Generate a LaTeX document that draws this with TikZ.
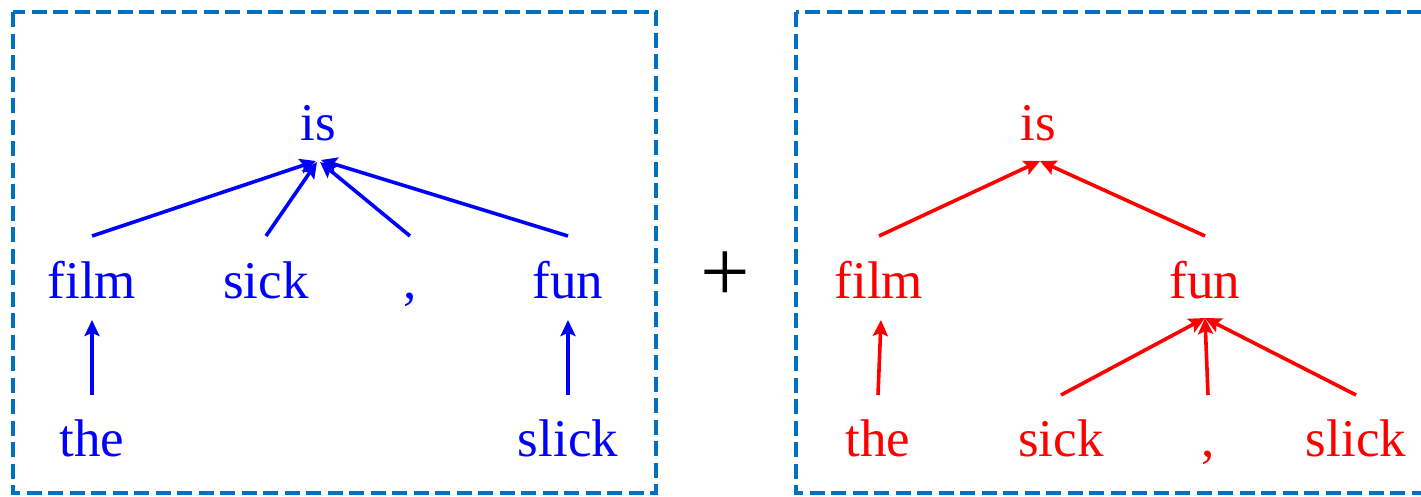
\documentclass[tikz,border=0pt]{standalone}
\usepackage{fontspec}
\setmainfont{Liberation Serif}
\usetikzlibrary{arrows.meta}
\definecolor{boxblue}{RGB}{0,112,192}
\begin{document}
\begin{tikzpicture}[x=1pt,y=-1pt,
  word/.style={inner sep=0pt,outer sep=0pt,anchor=base,text height=38pt,text depth=12pt,font=\fontsize{53}{60}\selectfont},
  bword/.style={word,text=blue},
  rword/.style={word,text=red},
  dep/.style={line width=3.6pt,-{Stealth[length=16pt,width=15pt,inset=3pt]}},
  bdep/.style={dep,draw=blue},
  rdep/.style={dep,draw=red},
  frame/.style={draw=boxblue,line width=4pt,dash pattern=on 15pt off 6.5pt}]
\useasboundingbox (0,0) rectangle (1421,496);
\draw[frame] (13,12) rectangle (656,493);
\draw[frame] (796,12) rectangle (1445,493);
% left tree
\node[bword] (lis) at (318,140) {is};
\node[bword] (lfilm) at (92,298) {film};
\node[bword] (lsick) at (266,298) {sick};
\node[bword] (lcomma) at (410,298) {,};
\node[bword] (lfun) at (568,298) {fun};
\node[bword] (lthe) at (92,456) {the};
\node[bword] (lslick) at (568,456) {slick};
\draw[bdep] ([yshift=24pt]lfilm.north) -- ([xshift=-2pt,yshift=-9pt]lis.south);
\draw[bdep] ([yshift=24pt]lsick.north) -- ([xshift=-1pt,yshift=-10pt]lis.south);
\draw[bdep] ([yshift=24pt]lcomma.north) -- ([xshift=2pt,yshift=-10pt]lis.south);
\draw[bdep] ([yshift=24pt]lfun.north) -- ([xshift=3pt,yshift=-8pt]lis.south);
\draw[bdep] ([yshift=23pt]lthe.north) -- ([yshift=-10pt]lfilm.south);
\draw[bdep] ([yshift=23pt]lslick.north) -- ([yshift=-10pt]lfun.south);
% plus
\node[inner sep=0pt,anchor=base,font=\fontsize{88}{90}\selectfont] (plus) at (725,301) {+};
% right tree
\node[rword] (ris) at (1038,140) {is};
\node[rword] (rfilm) at (879,298) {film};
\node[rword] (rfun) at (1205,298) {fun};
\node[rword] (rthe) at (878,456) {the};
\node[rword] (rsick) at (1061,456) {sick};
\node[rword] (rcomma) at (1208,456) {,};
\node[rword] (rslick) at (1356,456) {slick};
\draw[rdep] ([yshift=24pt]rfilm.north) -- ([xshift=2pt,yshift=-9pt]ris.south);
\draw[rdep] ([yshift=24pt]rfun.north) -- ([xshift=2pt,yshift=-9pt]ris.south);
\draw[rdep] ([yshift=23pt]rthe.north) -- ([xshift=2pt,yshift=-10pt]rfilm.south);
\draw[rdep] ([yshift=23pt]rsick.north) -- ([yshift=-8pt]rfun.south);
\draw[rdep] ([yshift=23pt]rcomma.north) -- ([yshift=-8pt]rfun.south);
\draw[rdep] ([yshift=23pt]rslick.north) -- ([yshift=-8pt]rfun.south);
\end{tikzpicture}
\end{document}
